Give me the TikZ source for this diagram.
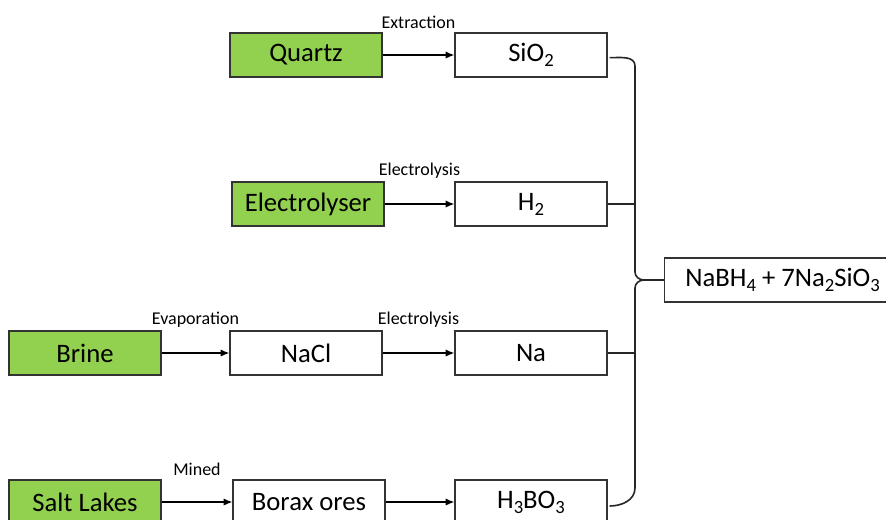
\documentclass[tikz,border=0pt]{standalone}
\usepackage{fontspec}
\setmainfont{Carlito}
\usetikzlibrary{positioning,arrows.meta}
\definecolor{leaf}{HTML}{92D050}
\newcommand\lowsub[1]{\raisebox{-0.4ex}{\fontsize{14}{16}\selectfont #1}}

\begin{document}
\begin{tikzpicture}[x=0.75pt, y=-0.75pt,
    box/.style={draw=black!80, line width=0.9pt, minimum height=33pt, minimum width=114pt, inner sep=0pt, font=\fontsize{20}{24}\selectfont},
    src/.style={box, fill=leaf},
    arr/.style={line width=1.1pt, -{Latex[length=6.5pt,width=5.5pt]}},
    lbl/.style={above=19pt, inner sep=0pt, font=\fontsize{13.5}{16}\selectfont},
    link/.style={line width=1.2pt, black!85}
]
\useasboundingbox (0,0) rectangle (886,519);
% sources
\node[src] (quartz) at (306,55) {Quartz};
\node[src] (elec) at (308,204) {Electrolyser};
\node[src] (brine) at (85,353) {Brine};
\node[src] (lakes) at (85,502) {Salt Lakes};
% intermediates
\node[box] (nacl) at (306,353) {NaCl};
\node[box] (borax) at (309,502) {Borax ores};
\node[box] (sio2) at (531,55) {SiO\lowsub{2}};
\node[box] (h2) at (531,204) {H\lowsub{2}};
\node[box] (na) at (531,353) {Na};
\node[box] (hbo) at (531,502) {H\lowsub{3}BO\lowsub{3}};
\node[box, anchor=west, minimum width=177pt] (prod) at (664,280) {NaBH\lowsub{4} + 7Na\lowsub{2}SiO\lowsub{3}};
\draw[arr] (quartz) -- node[lbl]{Extraction} (sio2);
\draw[arr] (elec) -- node[lbl]{Electrolysis} (h2);
\draw[arr] (brine) -- node[lbl]{Evaporation} (nacl);
\draw[arr] (nacl) -- node[lbl]{Electrolysis} (na);
\draw[arr] (lakes) -- node[lbl]{Mined} (borax);
\draw[arr] (borax) -- (hbo);
% brace
\coordinate (bt) at (635,66);
\coordinate (ta) at (635,272);
\coordinate (tip) at (644,280);
\coordinate (tb) at (635,288);
\coordinate (bb) at (635,488);
\draw[link] ([xshift=1.5pt,yshift=-2pt]sio2.east) to[out=0,in=90] (bt) -- (ta)
    to[out=-90,in=180] (tip) to[out=180,in=90] (tb) -- (bb)
    to[out=-90,in=0] ([xshift=1.5pt,yshift=-3pt]hbo.east);
\draw[link] (h2.east) -- (h2.east -| bt);
\draw[link] (na.east) -- (na.east -| bt);
\draw[link] (tip) -- (prod);
\end{tikzpicture}
\end{document}
